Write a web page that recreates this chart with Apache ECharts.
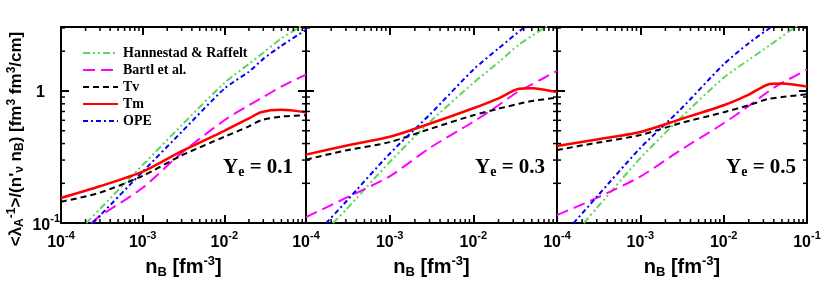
<!DOCTYPE html>
<html><head><meta charset="utf-8">
<script src="https://cdn.jsdelivr.net/npm/echarts@6/dist/echarts.min.js"></script>
<style>html,body{margin:0;padding:0;background:#fff}#c{width:830px;height:284px}</style>
</head><body><div id="c"></div>
<script>
// ---------- data ----------
const seriesNames = ['Hannestad & Raffelt', 'Bartl et al.', 'Tv', 'Tm', 'OPE'];
const panelLabels = ['0.1', '0.3', '0.5'];
const xTickLabels = ['10^-4', '10^-3', '10^-2', '10^-1'];
const yTickLabels = ['10^-1', '1'];

// Panel Ye = 0.1
const p1_x_TmTv = [1e-4, 3e-4, 1e-3, 3e-3, 1e-2, 2e-2, 2.8e-2, 5e-2, 1e-1];
const p1_Tm     = [0.155, 0.19, 0.245, 0.35, 0.50, 0.62, 0.69, 0.72, 0.69];
const p1_Tv     = [0.145, 0.17, 0.228, 0.325, 0.45, 0.54, 0.60, 0.64, 0.655];
const p1_x_HR   = [2.04e-4, 3e-4, 1e-3, 3e-3, 1e-2, 2e-2, 3e-2, 5e-2, 8e-2, 1e-1];
const p1_HR     = [0.1, 0.128, 0.275, 0.55, 1.15, 1.6, 1.95, 2.5, 3.0, 3.3];
const p1_x_OPE  = [2.45e-4, 3e-4, 1e-3, 3e-3, 1e-2, 2e-2, 3e-2, 5e-2, 1e-1];
const p1_OPE    = [0.1, 0.114, 0.245, 0.49, 1.04, 1.4, 1.75, 2.2, 2.9];
const p1_x_B    = [2.34e-4, 3e-4, 1e-3, 3e-3, 1e-2, 2e-2, 3e-2, 5e-2, 1e-1];
const p1_B      = [0.1, 0.113, 0.185, 0.34, 0.60, 0.78, 0.9, 1.08, 1.33];

// Panel Ye = 0.3
const p2_x_TmTv = [1e-4, 3e-4, 1e-3, 3e-3, 1e-2, 2e-2, 3.5e-2, 5e-2, 1e-1];
const p2_Tm     = [0.33, 0.385, 0.45, 0.565, 0.74, 0.88, 1.04, 1.05, 0.98];
const p2_Tv     = [0.302, 0.355, 0.41, 0.515, 0.655, 0.735, 0.80, 0.84, 0.89];
const p2_x_HR   = [2.1e-4, 3e-4, 1e-3, 3e-3, 1e-2, 2e-2, 3.5e-2, 7e-2, 1e-1];
const p2_HR     = [0.1, 0.126, 0.29, 0.58, 1.15, 1.65, 2.24, 3.0, 3.4];
const p2_x_OPE  = [1.74e-4, 3e-4, 1e-3, 3e-3, 1e-2, 2e-2, 4e-2, 1e-1];
const p2_OPE    = [0.1, 0.145, 0.335, 0.66, 1.45, 2.1, 3.0, 4.4];
const p2_x_B    = [1e-4, 3e-4, 1e-3, 3e-3, 1e-2, 2e-2, 3.5e-2, 5e-2, 1e-1];
const p2_B      = [0.111, 0.155, 0.226, 0.37, 0.585, 0.78, 1.0, 1.12, 1.42];

// Panel Ye = 0.5
const p3_x_TmTv = [1e-4, 3e-4, 1e-3, 3e-3, 1e-2, 2e-2, 3.4e-2, 5e-2, 1e-1];
const p3_Tm     = [0.384, 0.43, 0.49, 0.61, 0.78, 0.94, 1.12, 1.14, 1.08];
const p3_Tv     = [0.358, 0.405, 0.464, 0.57, 0.69, 0.78, 0.87, 0.90, 0.945];
const p3_x_HR   = [2.1e-4, 3e-4, 1e-3, 3e-3, 1e-2, 2e-2, 3.5e-2, 7e-2, 1e-1];
const p3_HR     = [0.1, 0.13, 0.31, 0.62, 1.26, 1.72, 2.2, 3.0, 3.4];
const p3_x_OPE  = [1.58e-4, 3e-4, 1e-3, 3e-3, 1e-2, 2e-2, 3.6e-2, 1e-1];
const p3_OPE    = [0.1, 0.158, 0.37, 0.72, 1.59, 2.3, 3.0, 4.6];
const p3_x_B    = [1e-4, 3e-4, 1e-3, 3e-3, 1e-2, 2e-2, 3.5e-2, 5e-2, 1e-1];
const p3_B      = [0.115, 0.155, 0.225, 0.355, 0.57, 0.77, 1.0, 1.15, 1.45];

// minor tick positions of the log axes
const xMinorTicks = [2e-4,3e-4,4e-4,5e-4,6e-4,7e-4,8e-4,9e-4,2e-3,3e-3,4e-3,5e-3,6e-3,7e-3,8e-3,9e-3,2e-2,3e-2,4e-2,5e-2,6e-2,7e-2,8e-2,9e-2];
const yMinorTicks = [0.2,0.3,0.4,0.5,0.6,0.7,0.8,0.9,2,3];

// ---------- chart ----------
const X_MIN = 1e-4, X_MAX = 1e-1, Y_MIN = 0.1, Y_MAX = 3.05;
const SANS = 'Liberation Sans', SERIF = 'Liberation Serif';

const panels = [
  {HR:[p1_x_HR,p1_HR], B:[p1_x_B,p1_B], Tv:[p1_x_TmTv,p1_Tv], Tm:[p1_x_TmTv,p1_Tm], OPE:[p1_x_OPE,p1_OPE]},
  {HR:[p2_x_HR,p2_HR], B:[p2_x_B,p2_B], Tv:[p2_x_TmTv,p2_Tv], Tm:[p2_x_TmTv,p2_Tm], OPE:[p2_x_OPE,p2_OPE]},
  {HR:[p3_x_HR,p3_HR], B:[p3_x_B,p3_B], Tv:[p3_x_TmTv,p3_Tv], Tm:[p3_x_TmTv,p3_Tm], OPE:[p3_x_OPE,p3_OPE]}
];
const keyOf = {'Hannestad & Raffelt':'HR', 'Bartl et al.':'B', 'Tv':'Tv', 'Tm':'Tm', 'OPE':'OPE'};
const styleOf = {
  'Hannestad & Raffelt': {color:'#5cd65c', width:2, type:[7,3,2,3,2,3]},
  'Bartl et al.':        {color:'#ff00ff', width:2, type:[12,6]},
  'Tv':                  {color:'#000000', width:2, type:[6,4]},
  'Tm':                  {color:'#ff0000', width:2.5, type:'solid'},
  'OPE':                 {color:'#0000ff', width:2, type:[5,3,2,3]}
};

const grids = [
  {left:61,  top:27, width:245, height:199},
  {left:306, top:27, width:251, height:199},
  {left:557, top:27, width:250, height:199}
];

const rich = {
  b:   {fontFamily:SANS, fontWeight:'bold', fontSize:16, lineHeight:20, verticalAlign:'bottom', color:'#000'},
  b1:  {fontFamily:SANS, fontWeight:'bold', fontSize:16, lineHeight:20, verticalAlign:'bottom', color:'#000', padding:[0,15,0,0]},
  sup: {fontFamily:SANS, fontWeight:'bold', fontSize:11, lineHeight:12, verticalAlign:'top', color:'#000'},
  nb:  {fontFamily:SANS, fontWeight:'bold', fontSize:20, lineHeight:24, verticalAlign:'middle', color:'#000'},
  nsub:{fontFamily:SANS, fontWeight:'bold', fontSize:13, lineHeight:13, verticalAlign:'bottom', color:'#000'},
  nsup:{fontFamily:SANS, fontWeight:'bold', fontSize:13, lineHeight:13, verticalAlign:'top', color:'#000'}
};
function richLabel(list, v) {
  const lv = Math.log10(v), e = Math.round(lv);
  if (Math.abs(lv - e) > 1e-6) return '';
  const t = list.find(s => (s === '1' ? 0 : parseInt(s.split('^')[1], 10)) === e);
  if (!t) return '';
  if (t === '1') return '{b1|1}';
  const parts = t.split('^');
  return '{b|' + parts[0] + '}{sup|' + parts[1] + '}';
}

const xAxes = [], yAxes = [], series = [];
grids.forEach((g, i) => {
  const xList = i === 2 ? xTickLabels : xTickLabels.slice(0, 3);
  xAxes.push({
    type:'log', logBase:10, gridIndex:i, min:X_MIN, max:X_MAX, position:'bottom',
    axisLine:{show:true, lineStyle:{color:'#000', width:2}},
    axisTick:{show:true, inside:true, length:8, lineStyle:{color:'#000', width:2}},
    splitLine:{show:false},
    axisLabel:{show:true, margin:7, formatter:(v) => richLabel(xList, v), rich:rich, hideOverlap:false},
    name:'{nb|n}{nsub|B}{nb| [fm}{nsup|-3}{nb|]}', nameLocation:'middle', nameGap:13,
    nameTextStyle:{rich:rich}
  });
  xAxes.push({
    type:'log', logBase:10, gridIndex:i, min:X_MIN, max:X_MAX, position:'top',
    axisLine:{show:true, lineStyle:{color:'#000', width:2}},
    axisTick:{show:true, inside:true, length:8, lineStyle:{color:'#000', width:2}},
    splitLine:{show:false}, axisLabel:{show:false}
  });
  yAxes.push({
    type:'log', logBase:10, gridIndex:i, min:Y_MIN, max:Y_MAX, position:'left',
    axisLine:{show:true, lineStyle:{color:'#000', width:2}},
    axisTick:{show:true, inside:true, length:8, lineStyle:{color:'#000', width:2}},
    splitLine:{show:false},
    axisLabel:{show: i===0, formatter:(v) => richLabel(yTickLabels, v), rich:rich, align:'right', margin:1, hideOverlap:false}
  });
  yAxes.push({
    type:'log', logBase:10, gridIndex:i, min:Y_MIN, max:Y_MAX, position:'right',
    axisLine:{show:true, lineStyle:{color:'#000', width:2}},
    axisTick:{show:true, inside:true, length:8, lineStyle:{color:'#000', width:2}},
    splitLine:{show:false}, axisLabel:{show:false}
  });
  const p = panels[i];
  seriesNames.forEach(n => {
    const d = p[keyOf[n]], st = styleOf[n];
    series.push({
      type:'line', name:n, xAxisIndex:i*2, yAxisIndex:i*2,
      data:d[0].map((x, k) => [x, d[1][k]]),
      showSymbol:false, symbol:'none', smooth:0.25, clip:true,
      lineStyle:{color:st.color, width:st.width, type:st.type}, itemStyle:{color:st.color},
      z:(n==='Tm'?4:3)
    });
  });
  // minor ticks drawn through the axes' own scales
  const tickData = xMinorTicks.map(v => [v, Y_MIN, 0]).concat(yMinorTicks.map(v => [X_MIN, v, 1]));
  series.push({
    type:'custom', xAxisIndex:i*2, yAxisIndex:i*2, data:tickData, clip:false, silent:true, z:5,
    renderItem:function(params, api){
      const kind = api.value(2);
      if (kind === 0) {
        const v = api.value(0);
        const pb = api.coord([v, Y_MIN]), pt = api.coord([v, Y_MAX]);
        return {type:'group', children:[
          {type:'line', shape:{x1:pb[0], y1:pb[1], x2:pb[0], y2:pb[1]-4}, style:{stroke:'#000', lineWidth:1.5}},
          {type:'line', shape:{x1:pt[0], y1:pt[1], x2:pt[0], y2:pt[1]+4}, style:{stroke:'#000', lineWidth:1.5}}
        ]};
      } else {
        const v = api.value(1);
        const pl = api.coord([X_MIN, v]), pr = api.coord([X_MAX, v]);
        return {type:'group', children:[
          {type:'line', shape:{x1:pl[0], y1:pl[1], x2:pl[0]+4, y2:pl[1]}, style:{stroke:'#000', lineWidth:1.5}},
          {type:'line', shape:{x1:pr[0], y1:pr[1], x2:pr[0]-4, y2:pr[1]}, style:{stroke:'#000', lineWidth:1.5}}
        ]};
      }
    }
  });
});

const yeRich = {
  y: {fontFamily:SERIF, fontWeight:'bold', fontSize:21, lineHeight:24, verticalAlign:'middle', color:'#000'},
  s: {fontFamily:SERIF, fontWeight:'bold', fontSize:14, lineHeight:14, verticalAlign:'bottom', color:'#000'}
};
const graphics = panelLabels.map((lab, i) => ({
  type:'text', left: [223, 475, 726][i], top: 157, z:10,
  style:{text:'{y|Y}{s|e}{y| = ' + lab + '}', rich:yeRich}
}));
const ytRich = {
  t: {fontFamily:SANS, fontWeight:'bold', fontSize:17, lineHeight:20, verticalAlign:'middle', color:'#000'},
  sb:{fontFamily:SANS, fontWeight:'bold', fontSize:12, lineHeight:12, verticalAlign:'bottom', color:'#000'},
  sp:{fontFamily:SANS, fontWeight:'bold', fontSize:12, lineHeight:12, verticalAlign:'top', color:'#000'}
};
graphics.push({
  type:'text', x:16, y:139, rotation:Math.PI/2, z:10,
  style:{text:'{t|<λ}{sb|A}{sp|-1}{t|>/(n\'}{sb|ν}{t| n}{sb|B}{t|) [fm}{sp|3}{t| fm}{sp|3}{t|/cm]}',
         rich:ytRich, align:'center', verticalAlign:'middle'}
});

const chart = echarts.init(document.getElementById('c'), null, {renderer:'canvas'});
chart.setOption({
  animation:false,
  backgroundColor:'#fff',
  grid:grids,
  xAxis:xAxes, yAxis:yAxes, series:series,
  legend:{
    data:seriesNames, orient:'vertical', left:77, top:41, itemWidth:35, itemHeight:12, itemGap:3,
    textStyle:{fontFamily:SERIF, fontWeight:'bold', fontSize:14, color:'#000'},
    itemStyle:{opacity:0}, selectedMode:false
  },
  graphic:graphics
});
</script></body></html>
